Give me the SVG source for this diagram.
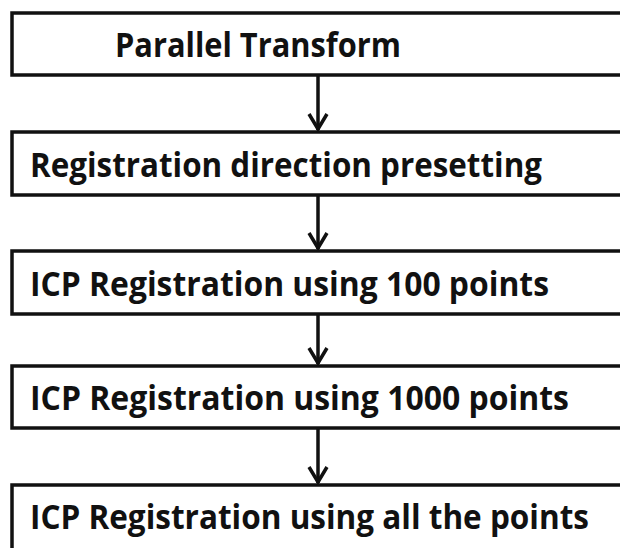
<svg xmlns="http://www.w3.org/2000/svg" width="620" height="548" viewBox="0 0 620 548">
<style>
.box{fill:#fff;stroke:#111;stroke-width:3.5}
.lbl{font-family:"Open Sans","Noto Sans","Liberation Sans",sans-serif;font-weight:700;font-size:34px;fill:#111}
.con{stroke:#111;stroke-width:3.5;fill:none}
.head{stroke:#111;stroke-width:3.5;fill:none;stroke-linejoin:miter}
</style>
<rect width="620" height="548" fill="#fff"/>
<g id="connectors">
<line class="con" x1="318" y1="75" x2="318" y2="130"/>
<polyline class="head" points="309,114 318,129 327,114"/>
<line class="con" x1="318" y1="195" x2="318" y2="249"/>
<polyline class="head" points="309,233 318,248 327,233"/>
<line class="con" x1="318" y1="314" x2="318" y2="364"/>
<polyline class="head" points="309,348 318,363 327,348"/>
<line class="con" x1="318" y1="428" x2="318" y2="483"/>
<polyline class="head" points="309,467 318,482 327,467"/>
</g>
<g id="node1">
<rect class="box" x="12" y="13" width="620" height="62"/>
<text class="lbl" x="115" y="57" textLength="286" lengthAdjust="spacingAndGlyphs">Parallel Transform</text>
</g>
<g id="node2">
<rect class="box" x="12" y="132" width="620" height="63"/>
<text class="lbl" x="30" y="177" textLength="512" lengthAdjust="spacingAndGlyphs">Registration direction presetting</text>
</g>
<g id="node3">
<rect class="box" x="12" y="251" width="620" height="63"/>
<text class="lbl" x="30" y="296" textLength="519" lengthAdjust="spacingAndGlyphs">ICP Registration using 100 points</text>
</g>
<g id="node4">
<rect class="box" x="12" y="366" width="620" height="62"/>
<text class="lbl" x="30" y="410" textLength="539" lengthAdjust="spacingAndGlyphs">ICP Registration using 1000 points</text>
</g>
<g id="node5">
<rect class="box" x="12" y="485" width="620" height="80"/>
<text class="lbl" x="30" y="529" textLength="559" lengthAdjust="spacingAndGlyphs">ICP Registration using all the points</text>
</g>
</svg>
